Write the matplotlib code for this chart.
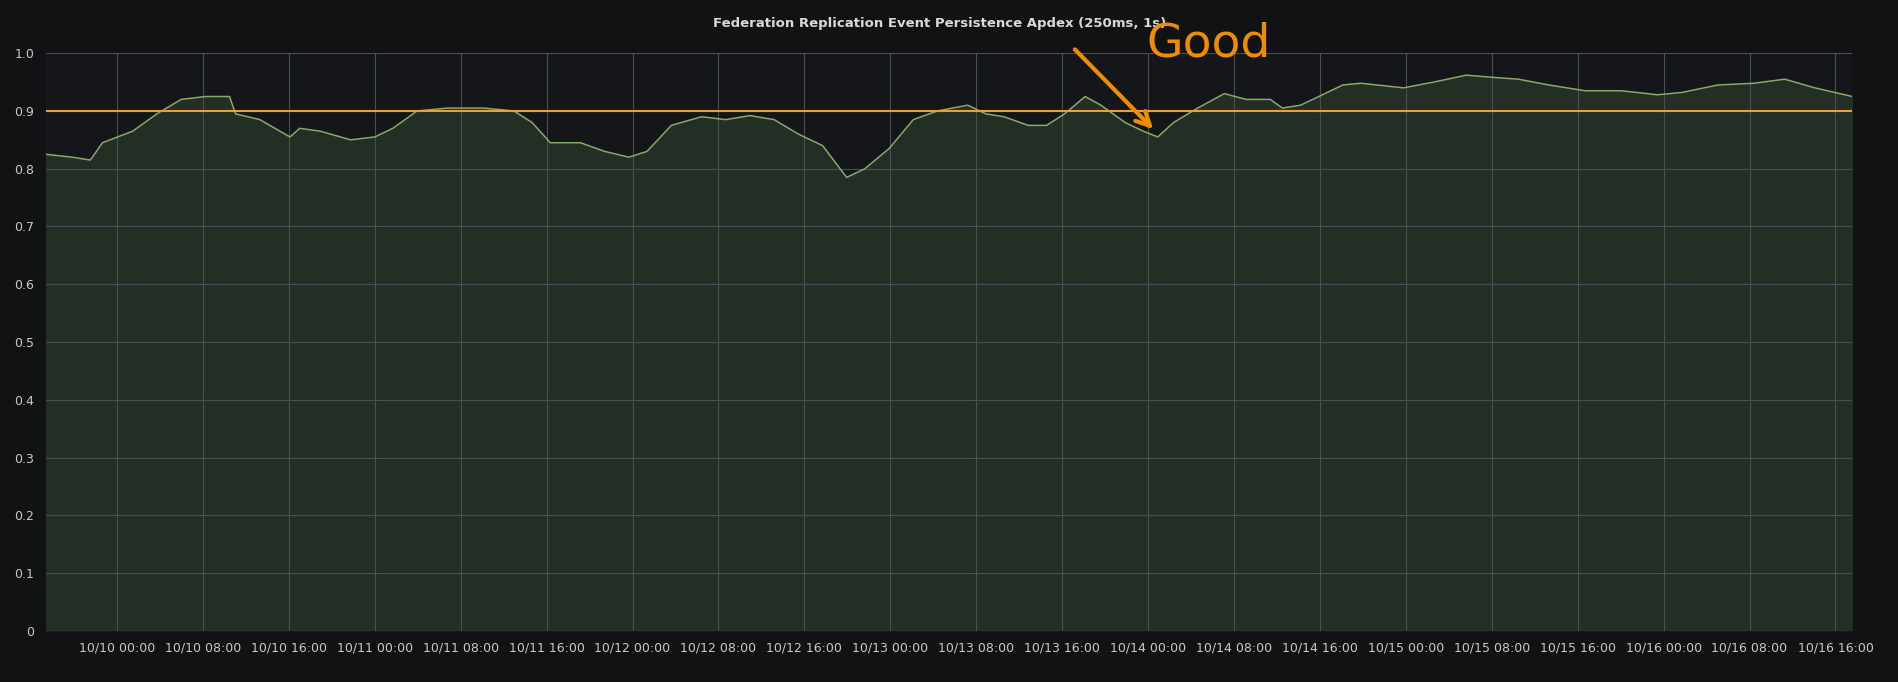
import numpy as np
import pandas as pd
import matplotlib.pyplot as plt
import matplotlib.dates as mdates

# hours since 10/10 00:00 and apdex values
hours = [-6.65, -4.17, -2.48, -1.35, 1.46, 3.72, 5.97, 8.23, 10.48, 11.04, 13.3, 16.11, 17.01,
         18.93, 21.75, 24.0, 25.69, 27.94, 30.76, 34.14, 36.96, 38.65, 40.34, 43.15, 45.41,
         47.66, 49.35, 51.61, 54.42, 56.68, 58.93, 61.18, 63.44, 65.69, 67.94, 69.63, 71.89,
         74.14, 76.39, 79.21, 80.9, 82.59, 84.85, 86.54, 88.23, 90.14, 91.61, 93.86, 95.55,
         96.9, 98.37, 100.62, 103.1, 105.13, 107.38, 108.5, 110.2, 111.89, 114.14, 115.83,
         119.77, 122.59, 125.63, 128.23, 130.48, 133.3, 136.68, 140.06, 143.44, 145.69,
         149.07, 152.45, 155.27, 158.08, 161.58]
apdex = [0.825, 0.82, 0.815, 0.845, 0.865, 0.895, 0.92, 0.925, 0.925, 0.895, 0.885, 0.855, 0.87,
         0.865, 0.85, 0.855, 0.87, 0.9, 0.905, 0.905, 0.9, 0.88, 0.845, 0.845, 0.83,
         0.82, 0.83, 0.875, 0.89, 0.885, 0.892, 0.885, 0.86, 0.84, 0.785, 0.8, 0.835,
         0.885, 0.9, 0.91, 0.895, 0.89, 0.875, 0.875, 0.895, 0.925, 0.91, 0.88, 0.865,
         0.855, 0.88, 0.905, 0.93, 0.92, 0.92, 0.905, 0.91, 0.925, 0.945, 0.948,
         0.94, 0.95, 0.962, 0.958, 0.955, 0.945, 0.935, 0.935, 0.928, 0.932,
         0.945, 0.948, 0.955, 0.94, 0.925]
threshold = 0.9
title = "Federation Replication Event Persistence Apdex (250ms, 1s)"

t0 = pd.Timestamp("2023-10-10 00:00")
times = [t0 + pd.Timedelta(hours=h) for h in hours]

fig = plt.figure(figsize=(18.98, 6.82), dpi=100, facecolor="#111214")
ax = fig.add_axes([0.024, 0.075, 0.952, 0.847])
ax.set_facecolor("#141619")

ax.fill_between(times, apdex, 0, color="#2a3a2a", alpha=0.7, lw=0)
ax.plot(times, apdex, color="#8aa86a", lw=1.1)
ax.axhline(threshold, color="#e8a13a", lw=1.5)

ax.set_xlim(times[0], times[-1])
ax.set_ylim(0, 1.0)
ax.set_yticks(np.arange(0, 1.01, 0.1))
ax.set_yticklabels(["0"] + [f"{v:.1f}" for v in np.arange(0.1, 1.01, 0.1)])
ax.xaxis.set_major_locator(mdates.HourLocator(byhour=[0, 8, 16]))
ax.xaxis.set_major_formatter(mdates.DateFormatter("%m/%d %H:%M"))
ax.grid(True, color="#4a4e52", lw=0.8)
ax.tick_params(colors="#c8c9ca", labelsize=9, length=0, pad=8)
for s in ax.spines.values():
    s.set_visible(False)

fig.text(0.495, 0.965, title, ha="center", va="center", color="#d8d9da",
         fontsize=9.5, fontweight="bold")

# hand-drawn style annotation
ax.annotate("", xy=(pd.Timestamp("2023-10-14 00:40"), 0.865),
            xytext=(pd.Timestamp("2023-10-13 17:00"), 1.01),
            arrowprops=dict(arrowstyle="->", color="#f08c00", lw=3, mutation_scale=25),
            annotation_clip=False)
fig.text(0.604, 0.935, "Good", color="#f08c00", fontsize=34, ha="left", va="center",
         family="DejaVu Sans")

fig.savefig("out.png", facecolor=fig.get_facecolor())
